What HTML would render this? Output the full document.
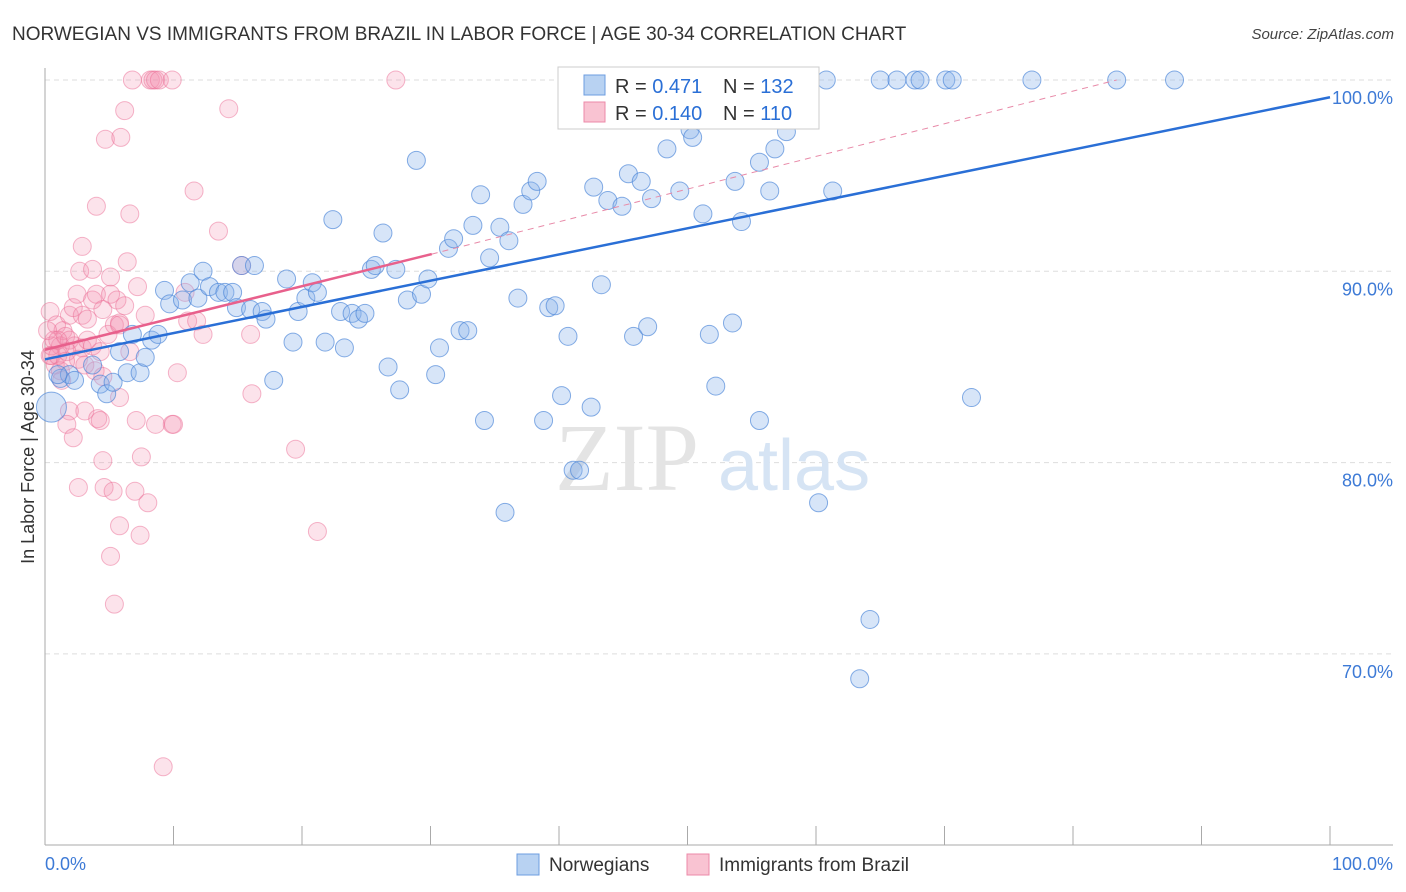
<!DOCTYPE html>
<html><head><meta charset="utf-8"><style>
body{margin:0;background:#fff;font-family:"Liberation Sans",sans-serif;}
svg{display:block}
</style></head><body>
<svg id="chart" width="1406" height="892">
<text x="12" y="40" font-size="19" fill="#333">NORWEGIAN VS IMMIGRANTS FROM BRAZIL IN LABOR FORCE | AGE 30-34 CORRELATION CHART</text>
<text x="1394" y="39" font-size="15" fill="#444" font-style="italic" text-anchor="end">Source: ZipAtlas.com</text>
<text transform="translate(34,457) rotate(-90)" font-size="18" fill="#333" text-anchor="middle">In Labor Force | Age 30-34</text>
<g id="grid"></g>
<g id="axes"></g>
<g id="wm"><text x="555" y="490" font-size="96" font-family="Liberation Serif,serif" fill="#e4e4e4">ZIP</text><text x="718" y="490" font-size="72" fill="#d6e4f4">atlas</text></g>
<g id="pinkPts"></g>
<g id="bluePts"></g>
<g id="lines"></g>
<g>
<rect x="558" y="67" width="261" height="62" fill="#fff" stroke="#ccc"/>
<rect x="584" y="75" width="21" height="20" fill="#b8d2f2" stroke="#6d9de0"/>
<rect x="584" y="102" width="21" height="20" fill="#f9c3d2" stroke="#ec8aa8"/>
<text x="615" y="93" font-size="20" fill="#333">R = <tspan fill="#2a6fd6">0.471</tspan><tspan x="723">N = </tspan><tspan fill="#2a6fd6">132</tspan></text>
<text x="615" y="120" font-size="20" fill="#333">R = <tspan fill="#2a6fd6">0.140</tspan><tspan x="723">N = </tspan><tspan fill="#2a6fd6">110</tspan></text>
</g>
<g>
<rect x="517" y="854" width="22" height="21" fill="#b8d2f2" stroke="#6d9de0"/>
<text x="549" y="871" font-size="19" fill="#333">Norwegians</text>
<rect x="687" y="854" width="22" height="21" fill="#f9c3d2" stroke="#ec8aa8"/>
<text x="719" y="871" font-size="19" fill="#333">Immigrants from Brazil</text>
</g>
</svg>
<script>
const blueX=[0.5,1.2,1.9,2.3,3.7,4.3,4.8,5.3,5.8,6.4,6.8,7.4,7.8,8.3,8.8,9.3,9.7,10.7,11.3,11.9,12.3,12.8,13.5,14.0,14.6,14.9,15.3,16.0,16.3,16.9,17.2,17.8,18.8,19.3,19.7,20.3,20.8,21.2,21.8,22.4,23.0,23.3,23.9,24.4,24.9,25.4,25.7,26.3,26.7,27.3,27.6,28.2,28.9,29.3,29.8,30.4,30.7,31.4,31.8,32.3,32.9,33.3,33.9,34.2,34.6,35.4,35.8,36.1,36.8,37.2,37.8,38.3,38.8,39.2,39.7,40.2,40.7,41.1,41.6,42.5,42.7,43.3,43.8,44.4,44.9,45.4,45.8,46.4,46.9,47.2,48.4,48.8,49.4,50.2,50.4,51.2,51.7,52.2,52.9,53.5,53.7,54.2,55.6,55.6,56.4,56.8,57.7,57.7,60.2,60.8,61.3,64.2,63.4,65.0,66.3,67.7,68.1,70.1,70.6,72.1,76.8,83.4,87.9,1.0];
const blueY=[82.9,84.4,84.6,84.3,85.1,84.1,83.6,84.2,85.8,84.7,86.7,84.7,85.5,86.4,86.7,89.0,88.3,88.5,89.4,88.6,90.0,89.2,88.9,88.9,88.9,88.1,90.3,88.0,90.3,87.9,87.5,84.3,89.6,86.3,87.9,88.6,89.4,88.9,86.3,92.7,87.9,86.0,87.8,87.5,87.8,90.1,90.3,92.0,85.0,90.1,83.8,88.5,95.8,88.8,89.6,84.6,86.0,91.2,91.7,86.9,86.9,92.4,94.0,82.2,90.7,92.3,77.4,91.6,88.6,93.5,94.2,94.7,82.2,88.1,88.2,83.5,86.6,79.6,79.6,82.9,94.4,89.3,93.7,99.0,93.4,95.1,86.6,94.7,87.1,93.8,96.4,98.2,94.2,97.4,97.0,93.0,86.7,84.0,100,87.3,94.7,92.6,82.2,95.7,94.2,96.4,97.3,98.1,77.9,100,94.2,71.8,68.7,100,100,100,100,100,100,83.4,100,100,100,84.6];
const blueR=[15];
const pinkX=[6.8,8.2,8.4,8.6,8.9,9.9,27.3,6.2,14.3,4.7,5.9,4.0,6.6,11.6,2.9,13.5,2.7,3.7,5.1,6.4,15.3,7.2,0.4,0.9,1.4,1.9,2.2,2.5,2.9,3.3,3.7,4.0,4.5,5.1,5.6,6.2,0.7,1.2,1.6,1.9,2.3,2.9,3.3,3.7,4.3,4.9,5.4,5.8,0.5,0.8,1.2,1.7,2.6,3.1,3.9,4.5,5.8,6.6,7.8,10.9,11.1,11.8,12.3,16.0,10.3,1.3,1.9,3.1,4.1,4.3,5.8,7.1,8.6,9.9,10.0,16.1,1.7,2.2,4.5,7.5,19.5,2.6,4.6,5.3,7.0,8.0,5.8,7.4,5.1,5.4,21.2,9.2,0.4,0.5,0.2,1.0,1.6,1.0];
const pinkY=[100,100,100,100,100,100,100,98.4,98.5,96.9,97.0,93.4,93.0,94.2,91.3,92.1,90.0,90.1,89.7,90.5,90.3,89.2,87.9,87.2,86.9,87.7,88.1,88.8,87.7,87.5,88.5,88.8,88.0,88.8,88.5,88.2,86.4,86.1,86.6,86.4,86.1,86.0,86.4,86.1,85.8,86.7,87.2,87.3,85.6,85.1,84.8,85.8,85.4,85.1,84.8,84.5,87.2,85.8,87.7,88.9,87.4,87.4,86.7,86.7,84.7,84.3,82.7,82.7,82.3,82.2,83.4,82.2,82.0,82.0,82.0,83.6,82.0,81.3,80.1,80.3,80.7,78.7,78.7,78.5,78.5,77.9,76.7,76.2,75.1,72.6,76.4,64.1,85.6,86.1,86.9,85.6,85.3,86.4];
const ticksY=[100,90,80,70];
const ticksX=[0,10,20,30,40,50,60,70,80,90,100];
const blueFit=[0,85.4,100,99.1];
const pinkFit=[0,85.9,30.1,90.9];
const pinkDash=[30.1,90.9,83.4,100];
const NS="http://www.w3.org/2000/svg";
const sx=v=>45+v*12.85, sy=v=>80+(100-v)*19.13;
function mk(t,a,p){const e=document.createElementNS(NS,t);for(const k in a)e.setAttribute(k,a[k]);p.appendChild(e);return e;}
const grid=document.getElementById('grid'),axes=document.getElementById('axes');
ticksY.forEach(v=>{
 const l=mk('line',{x1:45,x2:1393,y1:sy(v),y2:sy(v),stroke:'#ddd','stroke-dasharray':'5,4'},grid);
 
 
 const t=mk('text',{x:1393,y:sy(v)+24,'font-size':18,fill:'#3d7ad6','text-anchor':'end'},grid);
 t.textContent=v.toFixed(1)+'%';
 
 
});
const ax=mk('line',{x1:45,x2:45,y1:68,y2:845,stroke:'#aaa'},axes);


const bx=mk('line',{x1:45,x2:1393,y1:845,y2:845,stroke:'#aaa'},axes);


ticksX.forEach(v=>{
 const t=mk('line',{x1:sx(v),x2:sx(v),y1:826,y2:845,stroke:'#aaa'},axes);
 
 
});
[[0,'0.0%','start',45],[100,'100.0%','end',1393]].forEach(a=>{
 const t=mk('text',{x:a[3],y:870,'font-size':18,fill:'#3d7ad6','text-anchor':a[2]},axes);
 t.textContent=a[1];
 
 
});
const pg=document.getElementById('pinkPts');
pinkX.forEach((x,i)=>{
 const c=mk('circle',{cx:sx(x),cy:sy(pinkY[i]),r:9,fill:'rgba(244,143,177,0.25)',stroke:'rgba(236,110,150,0.5)','stroke-width':1},pg);
 
 
});
const bg=document.getElementById('bluePts');
blueX.forEach((x,i)=>{
 const c=mk('circle',{cx:sx(x),cy:sy(blueY[i]),r:i===0?blueR[0]:9,fill:'rgba(140,180,235,0.35)',stroke:'rgba(70,130,215,0.65)','stroke-width':1},bg);
 
 
});
const lg=document.getElementById('lines');
const pd=mk('line',{x1:sx(pinkDash[0]),y1:sy(pinkDash[1]),x2:sx(pinkDash[2]),y2:sy(pinkDash[3]),stroke:'#e88aa8','stroke-width':1,'stroke-dasharray':'6,5'},lg);


const pl=mk('line',{x1:sx(pinkFit[0]),y1:sy(pinkFit[1]),x2:sx(pinkFit[2]),y2:sy(pinkFit[3]),stroke:'#e8608c','stroke-width':2.5},lg);


const bl=mk('line',{x1:sx(blueFit[0]),y1:sy(blueFit[1]),x2:sx(blueFit[2]),y2:sy(blueFit[3]),stroke:'#2a6fd6','stroke-width':2.5},lg);


</script>
</body></html>
